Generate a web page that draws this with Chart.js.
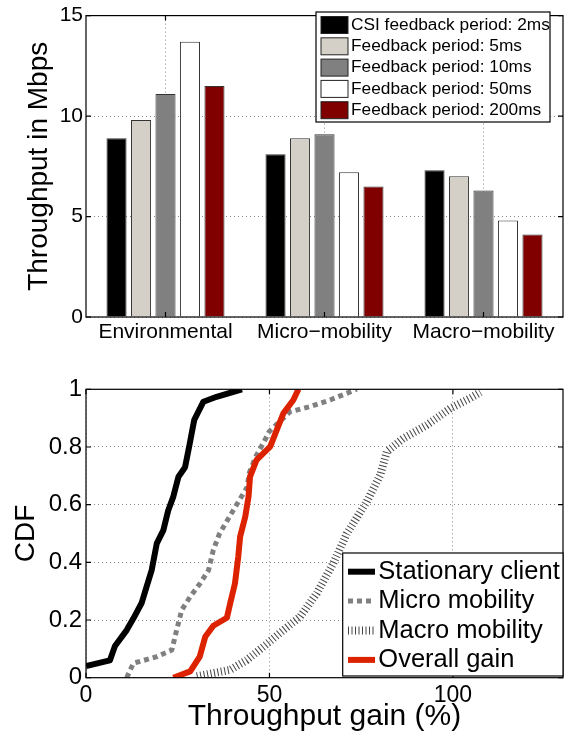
<!DOCTYPE html>
<html>
<head>
<meta charset="utf-8">
<script src="https://cdn.jsdelivr.net/npm/chart.js@4.4.1/dist/chart.umd.min.js"></script>
<style>
  html, body { margin: 0; padding: 0; background: #fff; }
  #wrap { position: relative; width: 568px; height: 735px; }
  .box { position: absolute; left: 0; width: 568px; }
</style>
</head>
<body>
<div id="wrap">
  <div class="box" style="top:0;height:350px"><canvas id="barChart"></canvas></div>
  <div class="box" style="top:350px;height:385px"><canvas id="cdfChart"></canvas></div>
</div>
<script>
var FONT = "'Liberation Sans', Arial, Helvetica, sans-serif";
Chart.defaults.font.family = FONT;
Chart.defaults.color = '#000';

// top chart: throughput (Mbps) per scenario and feedback period
var scenarios = ['Environmental', 'Micro\u2212mobility', 'Macro\u2212mobility'];
var periodLabels = ['CSI feedback period: 2ms', 'Feedback period: 5ms', 'Feedback period: 10ms',
                    'Feedback period: 50ms', 'Feedback period: 200ms'];
var period2ms = [8.9, 8.1, 7.3];
var period5ms = [9.8, 8.9, 7.0];
var period10ms = [11.1, 9.1, 6.3];
var period50ms = [13.7, 7.2, 4.8];
var period200ms = [11.5, 6.5, 4.1];
var periodColors = ['#000000', '#d4d0c8', '#808080', '#ffffff', '#800000'];
var mbpsTicks = [0, 5, 10, 15];

// bottom chart: CDF of throughput gain (%)
var stationaryGain = [0, 6.5, 7.9, 11.1, 12.9, 15.2, 16.5, 17.9, 19.3, 21.1, 22.4, 23.8, 25.2, 27.0, 28.2, 29.5, 32.0, 35.6, 42.5];
var stationaryCdf = [0.04, 0.06, 0.11, 0.165, 0.205, 0.26, 0.315, 0.373, 0.466, 0.512, 0.58, 0.628, 0.697, 0.73, 0.807, 0.894, 0.957, 0.974, 1.0];
var microGain = [11.1, 12.9, 19.3, 23.4, 24.7, 26.1, 28.4, 31.1, 33.4, 34.7, 36.4, 39.4, 42.0, 43.9, 44.5, 46.2, 48.6, 49.9, 51.4, 55.6, 61.1, 66.5, 73.8];
var microCdf = [0, 0.05, 0.073, 0.096, 0.165, 0.235, 0.281, 0.327, 0.373, 0.443, 0.5, 0.565, 0.62, 0.66, 0.71, 0.765, 0.82, 0.853, 0.872, 0.922, 0.94, 0.963, 1.0];
var macroGain = [30.2, 39.3, 43.8, 48.4, 53.8, 58.4, 62.9, 67.4, 71.1, 76.5, 80.2, 82.0, 86.5, 92.9, 99.3, 104.7, 107.5];
var macroCdf = [0.005, 0.027, 0.061, 0.108, 0.165, 0.212, 0.293, 0.397, 0.5, 0.61, 0.703, 0.784, 0.83, 0.876, 0.934, 0.969, 0.99];
var overallGain = [23.8, 28.4, 31.0, 32.5, 34.7, 38.4, 39.3, 40.6, 41.5, 42.0, 43.4, 44.3, 44.7, 46.5, 50.2, 52.0, 53.8, 56.5, 57.9];
var overallCdf = [0, 0.022, 0.073, 0.142, 0.18, 0.208, 0.258, 0.327, 0.42, 0.489, 0.558, 0.628, 0.697, 0.755, 0.801, 0.859, 0.917, 0.963, 1.0];
var gainTicks = [0, 50, 100];
var cdfTicks = [0, 0.2, 0.4, 0.6, 0.8, 1];

function toPoints(xs, ys) {
    return xs.map(function (x, i) { return { x: x, y: ys[i] }; });
}
function fixedTicks(values) {
    return function (scale) {
        scale.ticks = values.map(function (v) { return { value: v }; });
    };
}
function plainLabel(v) { return String(v); }

// matlab style box with inward ticks on all sides
var frameBox = {
    id: 'frameBox',
    afterDatasetsDraw: function (chart) {
        var a = chart.chartArea, ctx = chart.ctx;
        var xs = chart.scales.x, ys = chart.scales.y;
        ctx.save();
        ctx.strokeStyle = '#000';
        ctx.lineWidth = 1.2;
        ctx.strokeRect(a.left, a.top, a.right - a.left, a.bottom - a.top);
        ctx.beginPath();
        xs.ticks.forEach(function (t, i) {
            var px = xs.getPixelForTick(i);
            ctx.moveTo(px, a.bottom); ctx.lineTo(px, a.bottom - 5);
            ctx.moveTo(px, a.top); ctx.lineTo(px, a.top + 5);
        });
        ys.ticks.forEach(function (t, i) {
            var py = ys.getPixelForTick(i);
            ctx.moveTo(a.left, py); ctx.lineTo(a.left + 5, py);
            ctx.moveTo(a.right, py); ctx.lineTo(a.right - 5, py);
        });
        ctx.stroke();
        ctx.restore();
    }
};

// legend box drawn inside the plot, like matlab does
var boxLegend = {
    id: 'boxLegend',
    afterDraw: function (chart, args, o) {
        var ctx = chart.ctx;
        ctx.save();
        ctx.fillStyle = '#fff';
        ctx.fillRect(o.x, o.y, o.w, o.h);
        ctx.strokeStyle = '#000';
        ctx.lineWidth = 1.2;
        ctx.strokeRect(o.x, o.y, o.w, o.h);
        ctx.font = o.fontSize + 'px ' + FONT;
        ctx.textBaseline = 'middle';
        ctx.textAlign = 'left';
        chart.data.datasets.forEach(function (ds, i) {
            var cy = o.y + o.first + i * o.rowH;
            if (o.swatch === 'bar') {
                ctx.fillStyle = ds.backgroundColor;
                ctx.fillRect(o.x + o.sx, cy - o.sh / 2, o.sw, o.sh);
                ctx.strokeStyle = '#222';
                ctx.lineWidth = 1;
                ctx.strokeRect(o.x + o.sx, cy - o.sh / 2, o.sw, o.sh);
            } else {
                ctx.strokeStyle = ds.borderColor;
                ctx.lineWidth = ds.borderWidth;
                ctx.setLineDash(ds.borderDash || []);
                ctx.beginPath();
                ctx.moveTo(o.x + o.sx, cy);
                ctx.lineTo(o.x + o.sx + o.sw, cy);
                ctx.stroke();
                ctx.setLineDash([]);
            }
            ctx.fillStyle = '#000';
            ctx.fillText(ds.label, o.x + o.tx, cy);
        });
        ctx.restore();
    }
};

var gridDots = { color: '#8a8a8a', lineWidth: 1, drawTicks: false };

new Chart('barChart', {
    type: 'bar',
    data: {
        labels: scenarios,
        datasets: [period2ms, period5ms, period10ms, period50ms, period200ms].map(function (vals, i) {
            return {
                label: periodLabels[i],
                data: vals,
                backgroundColor: periodColors[i],
                borderColor: '#333',
                borderWidth: 1,
                categoryPercentage: 0.77,
                barPercentage: 0.82
            };
        })
    },
    options: {
        responsive: true,
        maintainAspectRatio: false,
        animation: false,
        layout: { padding: { top: 12, right: 5, left: 0, bottom: 0 } },
        plugins: {
            legend: { display: false },
            tooltip: { enabled: false },
            boxLegend: { swatch: 'bar', x: 316, y: 12, w: 234, h: 110, first: 13, rowH: 21.3,
                         sx: 5, sw: 27, sh: 17, tx: 35, fontSize: 17.3 }
        },
        scales: {
            x: {
                grid: Object.assign({ offset: false }, gridDots),
                border: { display: false, dash: [1, 3] },
                ticks: { font: { size: 21 }, color: '#000', padding: 3, maxRotation: 0 },
                afterFit: function (s) { s.height = 33; }
            },
            y: {
                min: 0,
                max: 15,
                afterBuildTicks: fixedTicks(mbpsTicks),
                grid: gridDots,
                border: { display: false, dash: [1, 3] },
                ticks: { font: { size: 21 }, color: '#000', padding: 3, callback: plainLabel },
                title: { display: true, text: 'Throughput in Mbps', font: { size: 28 }, color: '#000',
                         padding: { top: 22, bottom: 0 } },
                afterFit: function (s) { s.width = 86; }
            }
        }
    },
    plugins: [frameBox, boxLegend]
});

function lineSet(label, xs, ys, color, width, dash, order) {
    return {
        label: label,
        data: toPoints(xs, ys),
        borderColor: color,
        borderWidth: width,
        borderDash: dash,
        borderCapStyle: 'butt',
        borderJoinStyle: 'round',
        pointRadius: 0,
        tension: 0,
        fill: false,
        order: order
    };
}

new Chart('cdfChart', {
    type: 'line',
    data: {
        datasets: [
            lineSet('Stationary client', stationaryGain, stationaryCdf, '#000000', 6, [], 1),
            lineSet('Micro mobility', microGain, microCdf, '#808080', 5, [5, 4], 3),
            lineSet('Macro mobility', macroGain, macroCdf, '#444444', 8, [1, 2.5], 4),
            lineSet('Overall gain', overallGain, overallCdf, '#dd2200', 6, [], 2)
        ]
    },
    options: {
        responsive: true,
        maintainAspectRatio: false,
        animation: false,
        layout: { padding: { top: 39.3, right: 5, left: 0, bottom: 0 } },
        plugins: {
            legend: { display: false },
            tooltip: { enabled: false },
            boxLegend: { swatch: 'line', x: 342.7, y: 203, w: 220.3, h: 123, first: 18.7, rowH: 29.4,
                         sx: 5.3, sw: 27, tx: 35.6, fontSize: 25.5 }
        },
        scales: {
            x: {
                type: 'linear',
                min: 0,
                max: 130,
                afterBuildTicks: fixedTicks(gainTicks),
                grid: gridDots,
                border: { display: false, dash: [1, 3] },
                ticks: { font: { size: 23 }, color: '#000', padding: 4, maxRotation: 0, callback: plainLabel },
                title: { display: true, text: 'Throughput gain (%)', font: { size: 30 }, color: '#000',
                         padding: { top: 0, bottom: 0 } },
                afterFit: function (s) { s.height = 57.3; }
            },
            y: {
                min: 0,
                max: 1,
                afterBuildTicks: fixedTicks(cdfTicks),
                grid: gridDots,
                border: { display: false, dash: [1, 3] },
                ticks: { font: { size: 24 }, color: '#000', padding: 4, callback: plainLabel },
                title: { display: true, text: 'CDF', font: { size: 28 }, color: '#000',
                         padding: { top: 9, bottom: 0 } },
                afterFit: function (s) { s.width = 86; }
            }
        }
    },
    plugins: [frameBox, boxLegend]
});
</script>
</body>
</html>
